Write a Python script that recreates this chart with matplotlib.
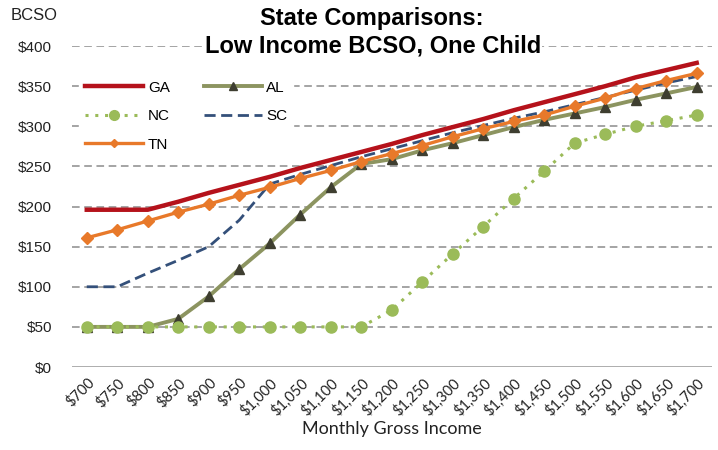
import matplotlib
matplotlib.use("Agg")
import matplotlib.pyplot as plt
from matplotlib.lines import Line2D

incomes = ["$700", "$750", "$800", "$850", "$900", "$950", "$1,000", "$1,050", "$1,100",
           "$1,150", "$1,200", "$1,250", "$1,300", "$1,350", "$1,400", "$1,450", "$1,500",
           "$1,550", "$1,600", "$1,650", "$1,700"]
ga = [196, 196, 196, 206, 217, 227, 237, 248, 258, 268, 278, 289, 299, 309, 320, 330, 340, 350, 361, 370, 379]
al = [50, 50, 50, 60, 88, 122, 154, 190, 224, 253, 259, 270, 279, 289, 299, 308, 316, 324, 333, 341, 349]
nc = [50, 50, 50, 50, 50, 50, 50, 50, 50, 50, 71, 106, 141, 175, 210, 244, 279, 290, 300, 307, 314]
sc = [100, 100, 117, 133, 150, 183, 228, 240, 251, 262, 272, 282, 292, 301, 310, 318, 327, 336, 345, 354, 362]
tn = [161, 171, 182, 193, 203, 214, 224, 235, 245, 256, 266, 276, 287, 297, 306, 314, 325, 335, 347, 357, 366]
yticks = [0, 50, 100, 150, 200, 250, 300, 350, 400]
ytick_labels = ["$0", "$50", "$100", "$150", "$200", "$250", "$300", "$350", "$400"]

fig = plt.figure(figsize=(7.18, 4.5), dpi=100)
ax = fig.add_axes([0.0996, 0.1844, 0.892, 0.7133])
x = list(range(len(incomes)))

ax.plot(x, ga, color="#B5121B", lw=3.2, zorder=4, label="GA")
ax.plot(x, al, color="#8C9460", lw=2.8, marker="^", ms=7, mfc="#3E3E30", mec="#3E3E30", zorder=3, label="AL")
ax.plot(x, sc, color="#34507A", lw=2.0, ls=(0, (4, 2)), zorder=3.5, label="SC")
ax.plot(x, tn, color="#E8792A", lw=2.4, marker="D", ms=6.5, mfc="#E8792A", mec="#E8792A", zorder=3.6, label="TN")
ax.plot(x, nc, color="#9BBB59", lw=2.2, ls=(0, (1, 2.2)), marker="o", ms=8, mfc="#9BBB59", mec="#9BBB59", zorder=5, label="NC")

ax.set_xlim(-0.5, len(incomes) - 0.5)
ax.set_ylim(0, 400)
ax.set_yticks(yticks)
ax.set_yticklabels(ytick_labels, fontsize=11, family="Liberation Sans", color="#222222")
ax.set_xticks(x)
ax.set_xticklabels(incomes, rotation=45, ha="right", rotation_mode="anchor", fontsize=10.5,
                   family="Lato", color="#222222")
ax.tick_params(axis="both", length=0)
ax.tick_params(axis="y", pad=14)
ax.tick_params(axis="x", pad=6)
for s in ["top", "right", "left", "bottom"]:
    ax.spines[s].set_visible(False)
for yv in yticks[1:]:
    ax.axhline(yv, color="#8C8C8C", lw=1.1, ls=(0, (5, 3)), zorder=1)
ax.axhline(0, color="#A0A0A0", lw=1.2, zorder=1)

ax.set_xlabel("Monthly Gross Income", fontsize=13, family="Lato", color="#222222", labelpad=2)

handles = [
    Line2D([], [], color="#B5121B", lw=3.2),
    Line2D([], [], color="#9BBB59", lw=2.2, ls=(0, (1, 2.2)), marker="o", ms=7, mfc="#9BBB59", mec="#9BBB59"),
    Line2D([], [], color="#E8792A", lw=2.4, marker="D", ms=4, mfc="#E8792A", mec="#E8792A"),
    Line2D([], [], color="#8C9460", lw=2.8, marker="^", ms=6, mfc="#3E3E30", mec="#3E3E30"),
    Line2D([], [], color="#34507A", lw=2.0, ls=(0, (4, 2))),
]
leg = ax.legend(handles, ["GA", "NC", "TN", "AL", "SC"], ncol=2, loc="upper left",
                bbox_to_anchor=(0.0, 0.935), frameon=True, facecolor="white", edgecolor="white",
                framealpha=1, prop={"family": "Liberation Sans", "size": 11},
                handlelength=3.8, handletextpad=0.3, labelspacing=0.95, columnspacing=2.2,
                borderpad=0.4)
leg.set_zorder(2)

fig.text(0.518, 0.958, "State Comparisons:", ha="center", va="center", fontsize=17,
         fontweight="bold", family="Liberation Sans")
fig.text(0.519, 0.897, "Low Income BCSO, One Child", ha="center", va="center", fontsize=17,
         fontweight="bold", family="Liberation Sans",
         bbox=dict(facecolor="white", edgecolor="none", pad=1), zorder=10)
fig.text(0.015, 0.965, "BCSO", ha="left", va="center", fontsize=12, family="Liberation Sans",
         color="#222222")

fig.savefig("out.png", dpi=100, facecolor="white")
